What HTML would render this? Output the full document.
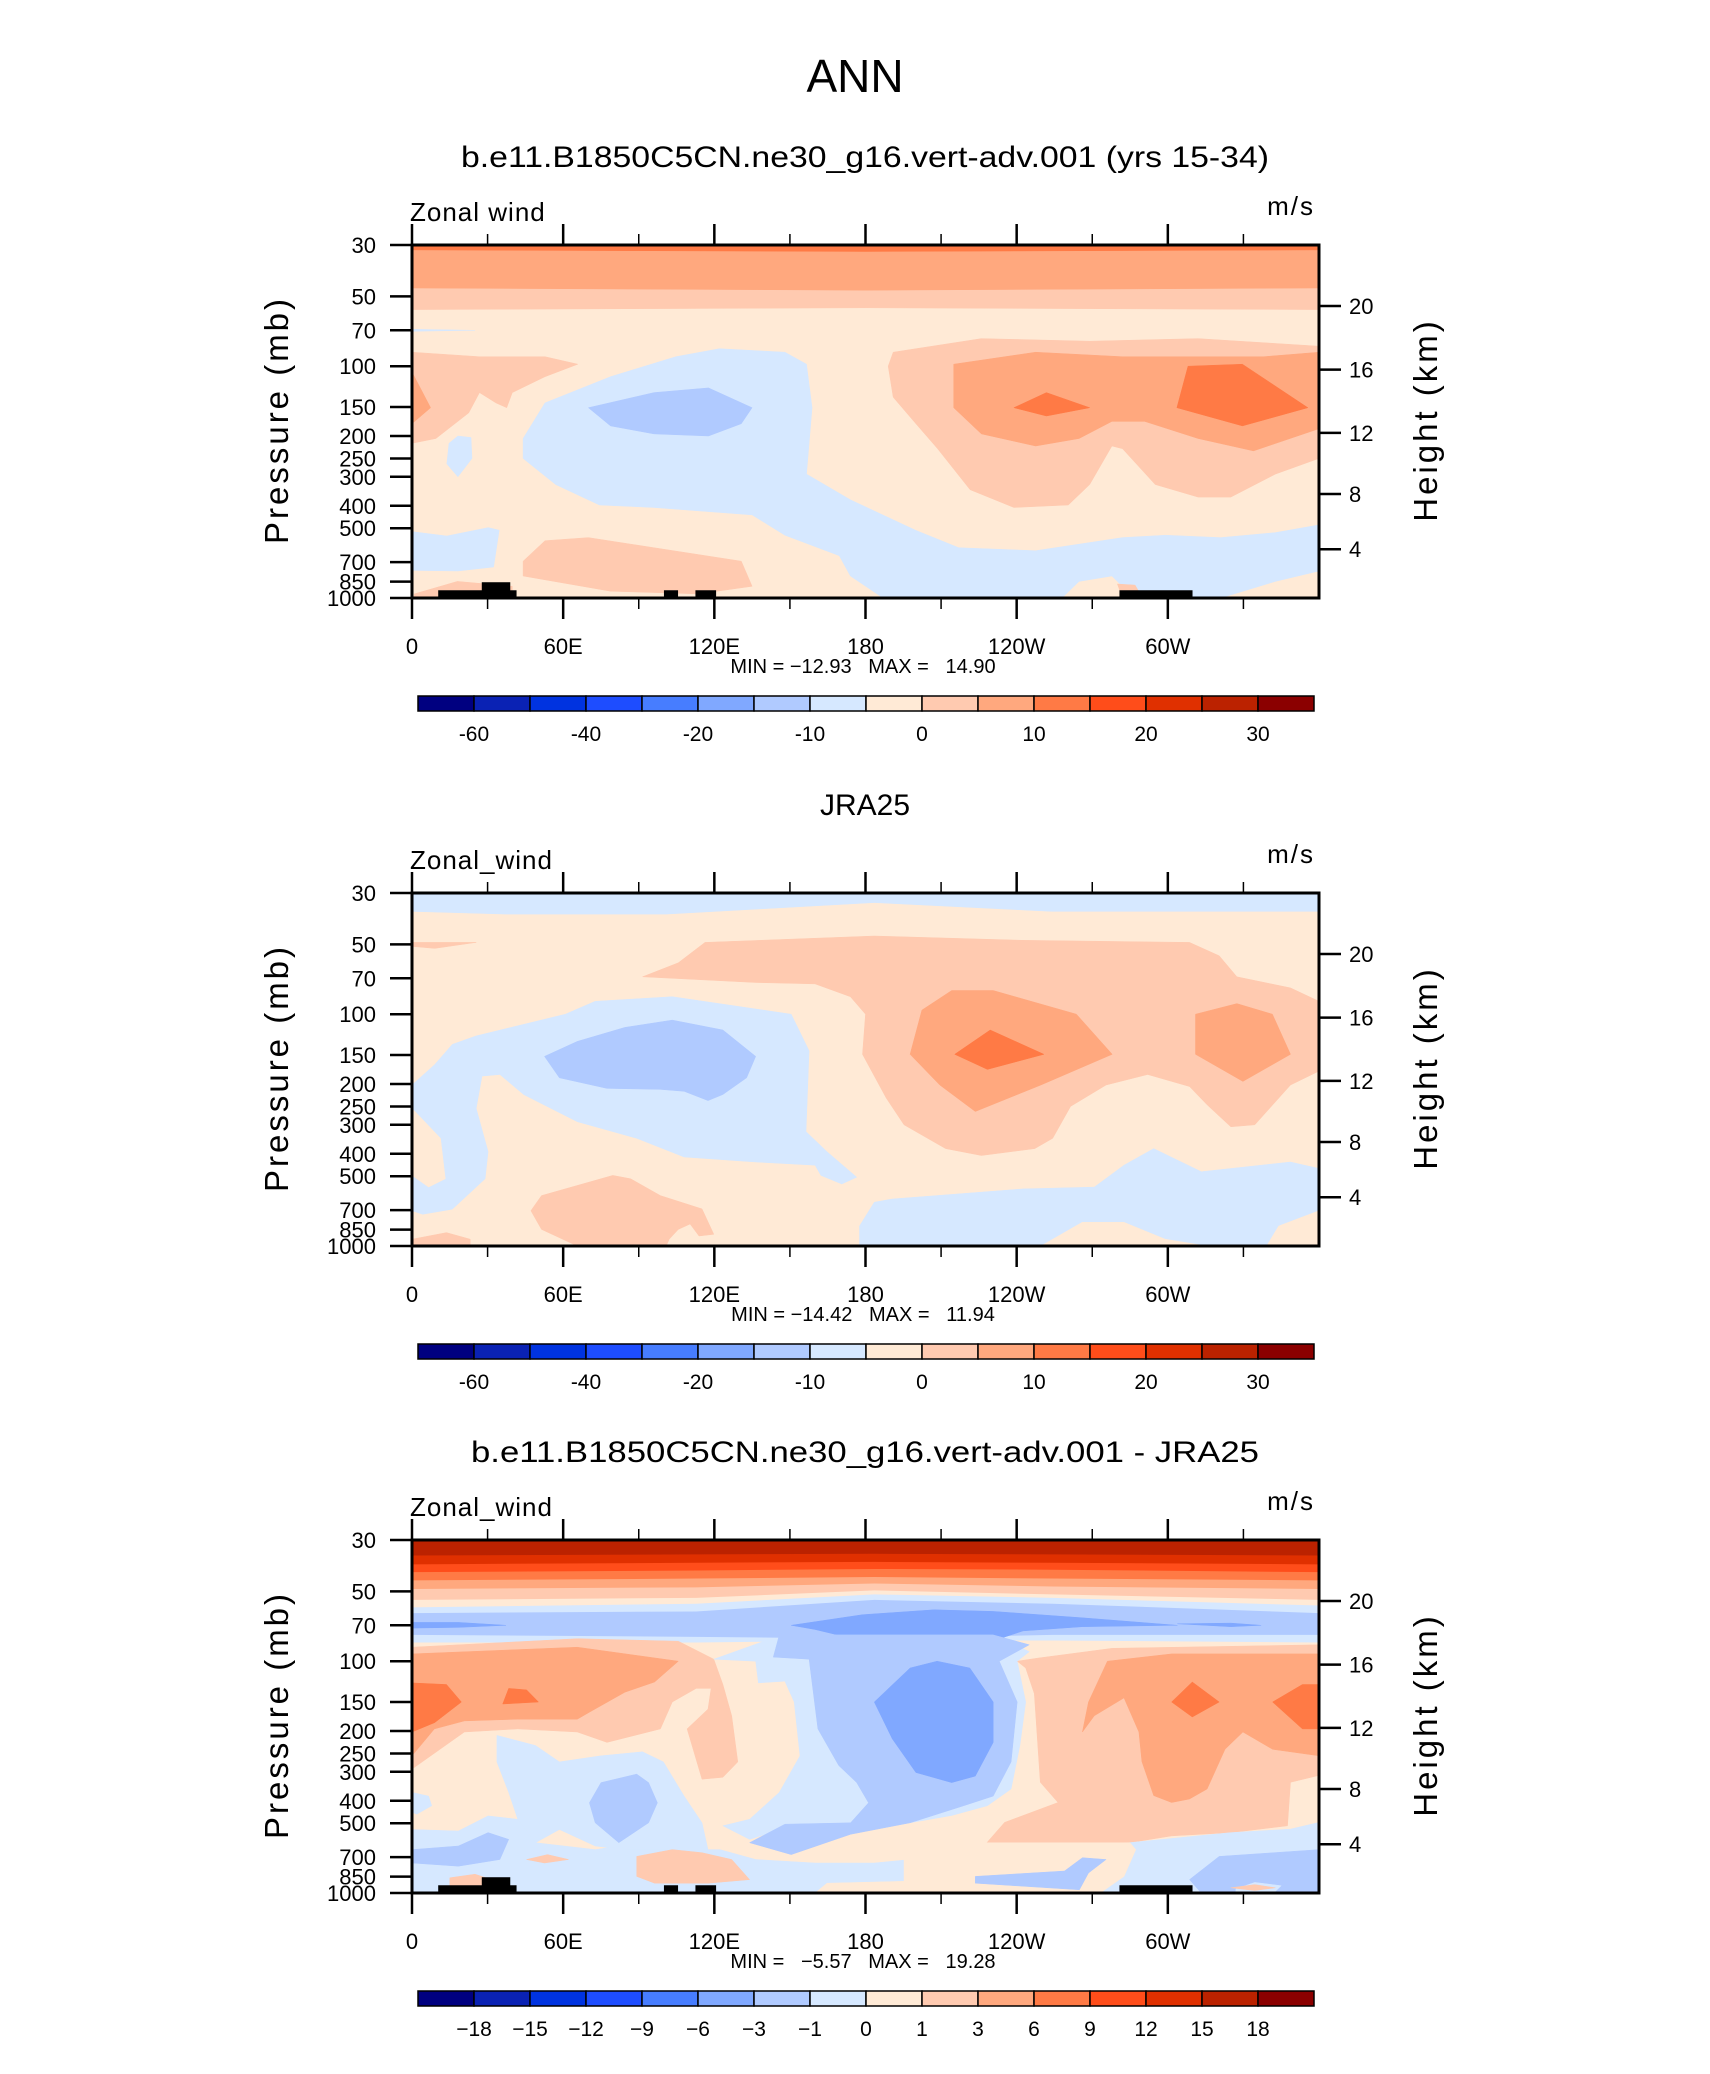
<!DOCTYPE html>
<html><head><meta charset="utf-8">
<style>
html,body{margin:0;padding:0;background:#fff;}
svg{display:block;font-family:"Liberation Sans",sans-serif;}
.pre{white-space:pre;}
</style></head>
<body>
<svg id="fig" width="1710" height="2074" viewBox="0 0 1710 2074" xmlns="http://www.w3.org/2000/svg">
<rect x="0" y="0" width="1710" height="2074" fill="#fff"/>
<text x="855" y="92" text-anchor="middle" font-size="46" fill="#000">ANN</text>
</svg>
<script>
// ---------- data ----------
const colors = ["#000080","#0a22b4","#0033e0","#1e4dff","#477dff","#80a8ff","#b0caff","#d6e8ff","#ffead6","#ffcab0","#ffa87e","#ff7a45","#ff4d1a","#e03000","#bb2200","#8b0000"];
const cbLabelsAbs = ["","-60","","-40","","-20","","-10","","0","","10","","20","","30",""];
const cbLabelsDiff = ["","\u221218","\u221215","\u221212","\u22129","\u22126","\u22123","\u22121","0","1","3","6","9","12","15","18",""];
const lonTicks = [0,60,120,180,240,300];
const lonTickLabels = ["0","60E","120E","180","120W","60W"];
const lonMinorTicks = [30,90,150,210,270,330];
const presTicks = [30,50,70,100,150,200,250,300,400,500,700,850,1000];
const heightTicks = [4,8,12,16,20];
const heightTickPres = [616,356,194,103.5,55];
const topoBoxes = [[10.4,41.5,926],[27.7,39,855],[100,105.6,926],[112.5,120.7,926],[280.8,309.8,926]];
const bandLons = [0,112.8,183.5,254.3,360];

const p1Layers = [
 [9,[[0,30],[360,30],[360,57],[180,56],[0,57]]],
 [10,[[0,30],[360,30],[360,46],[180,47],[0,46]]],
 [11,[[0,30],[360,30],[360,31.5],[180,32],[0,31.5]]],
 [7,[[0,69.3],[25,70],[0,70.7]]],
 [9,[[0,87],[26.8,91],[52.8,91],[65.8,98],[52.8,111],[39.8,130],[37.6,151],[33.3,144],[26.8,130],[22.5,159],[9.5,205],[0,215]]],
 [10,[[0,106],[7.4,151],[0,177]]],
 [7,[[18.2,200],[23.4,203],[23.8,250],[18.2,300],[13.8,264],[14.7,215]]],
 [7,[[44.1,205],[52.8,144],[78.8,111],[104.7,91],[122,84],[148,87],[156.6,98],[158.8,151],[156.6,292],[174,377],[200,511],[217,607],[247.5,625],[282,549],[299,536],[321,549],[342.7,522],[360,484],[360,765],[342.7,848],[321,1000],[286,1000],[282,890],[277.8,804],[264.8,848],[258,1000],[187,1000],[174,804],[169.6,657],[148,536],[135,438],[96,407],[74.4,397],[57,324],[44.1,250]]],
 [7,[[0,517],[13.8,540],[30.3,497],[34.6,510],[32.4,735],[18.2,765],[0,760]]],
 [6,[[70,151],[96,130],[117.7,124],[135,151],[130.7,177],[117.7,200],[96,196],[78.8,181]]],
 [9,[[191,87],[226,76],[269,78],[312,76],[360,82],[360,250],[342.7,292],[325,367],[312,367],[295,324],[282,227],[277.8,221],[269,324],[260.5,397],[238.9,407],[221.5,341],[208.6,227],[200,177],[191,136],[189,100]]],
 [10,[[215,98],[247.5,87],[282,91],[308,91],[338,91],[360,87],[360,186],[334,232],[312,205],[290.8,173],[277.8,173],[264.8,205],[247.5,221],[226,196],[215,151]]],
 [11,[[238.9,151],[251.8,130],[269,151],[251.8,164]]],
 [11,[[308,100],[329.6,98],[355.6,151],[329.6,181],[303.6,151]]],
 [9,[[44.1,694],[52.8,566],[70,549],[96,607],[130.7,694],[135,890],[113.5,960],[78.8,935],[44.1,804]]],
 [9,[[0.9,960],[18,848],[39.8,890],[39.8,1000],[0.9,1000]]],
 [9,[[282,1000],[280,870],[287,880],[290,1000]]]
];

const p2Layers = [
 [7,[[0,30],[360,30],[360,36],[254,36],[183.5,33],[101,37],[37,37],[0,36]]],
 [9,[[0,49],[13.7,49],[25.5,49],[9,52],[0,51]]],
 [9,[[91.5,69],[105.7,60],[116.3,49],[183.5,46],[242.5,48],[308.6,49],[320.4,56],[327.4,69],[348.7,77],[360,88],[360,176],[348.7,202],[334.5,300],[325,306],[315.6,246],[308.6,205],[292,182],[275.5,202],[261.4,250],[254.3,343],[247.2,380],[226,407],[211.8,380],[195.3,300],[188.2,230],[178.8,149],[180,100],[174,84],[160,74],[136.4,73]]],
 [10,[[197.7,149],[202.4,96],[214.2,79],[230.7,79],[263.7,100],[277.9,149],[249.6,202],[223.6,263],[209.5,202]]],
 [10,[[311,100],[327.4,90],[341.5,100],[348.7,149],[329.8,195],[311,149]]],
 [11,[[215.4,149],[229.5,117],[250.8,149],[228.4,173]]],
 [7,[[0,202],[9,165],[16,135],[25.5,124],[60.9,100],[72.7,88],[103.3,84],[150.5,100],[157.6,144],[156.4,321],[164.7,392],[176.5,505],[170.6,540],[162.3,496],[160,448],[136.4,434],[108,413],[89.2,343],[65.6,291],[44.3,222],[34.9,182],[27.8,185],[25.5,255],[30.2,392],[29,513],[16,694],[4.2,730],[0,704]]],
 [8,[[0,255],[11.3,343],[13.2,513],[6.6,557],[0,496]]],
 [6,[[52.6,152],[65.6,131],[84.5,114],[103.3,106],[123.4,117],[136.4,152],[132.8,188],[123.4,222],[117.5,236],[108,215],[98.6,211],[77.4,209],[58.5,188]]],
 [7,[[177.6,1000],[177.6,820],[183.5,647],[190.6,627],[242.5,567],[270.8,557],[282.6,448],[294.4,380],[313.3,478],[348.7,434],[360,463],[360,1000]]],
 [8,[[249.6,1000],[266,790],[282.6,790],[299,935],[315.6,1000]]],
 [8,[[339.2,1000],[344,820],[360,704],[360,1000]]],
 [9,[[47.2,704],[51.4,606],[79.7,496],[86.8,513],[98.6,606],[115.1,692],[119.8,890],[113.9,905],[110.4,804],[105.7,848],[102.1,935],[100.9,1000],[65.6,1000],[51.4,848]]],
 [9,[[0,935],[13.7,875],[23.1,935],[23.1,1000],[0,1000]]]
];

const p3Bands = [
 [7,[83,83,81.4,81.4,83]],
 [6,[77,78.5,80,77,77]],
 [7,[62,61,54.4,56.5,62]],
 [8,[58.6,56.5,51.5,53.3,57.5]],
 [9,[54.4,53.3,49.5,51.5,54.4]],
 [10,[48.8,48,46.2,47.6,48.8]],
 [11,[44.8,44,43.3,44,44.8]],
 [12,[41.3,40.6,40,40.3,41.3]],
 [13,[38.2,37.6,37.3,37.6,38.2]],
 [14,[35,34.6,34.4,34.6,35]]
];
const p3Layers = [
 [5,[[150.5,70],[178.8,63],[207.1,60],[230.7,61],[266.1,65],[303.8,70],[266.1,71],[242.5,74],[226,85],[214.2,100],[202.4,95],[183.5,84],[160,73]]],
 [5,[[0,68],[18.4,68],[37.3,70],[18.4,71.5],[0,72]]],
 [5,[[303.8,69],[325,68.5],[337,70],[325,71]]],
 [9,[[0,87],[65.6,80],[105.7,82],[119.8,98],[123.4,126],[126.9,172],[129.3,272],[123.4,317],[115.1,323],[109.2,196],[117.5,161],[118.7,131],[112.8,131],[103.3,150],[98.6,196],[77.4,224],[65.6,202],[42,196],[20.8,202],[0,292]]],
 [10,[[0,93],[65.6,87],[105.7,100],[96.3,123],[84.5,136],[70.4,166],[65.6,178],[42,178],[20.8,181],[8.9,196],[0,256]]],
 [11,[[0,124],[13.7,126],[19.6,150],[9,184],[0,202]]],
 [11,[[38.4,131],[45.5,133],[50.2,150],[36,153]]],
 [9,[[240.2,100],[248.4,97],[277.9,88],[360,85],[360,311],[348.7,333],[347.5,513],[325,549],[301.5,567],[285,606],[258.8,647],[230.5,647],[228.2,606],[235.2,496],[256.4,407],[249.4,333],[247,138],[243.6,107]]],
 [10,[[276,100],[301.5,93],[360,93],[360,256],[341.6,240],[329.8,202],[322.7,240],[315.6,356],[308.6,393],[301.5,407],[294.4,380],[289.7,271],[288.5,202],[282.6,144],[270.8,172],[266.1,202],[268.5,150]]],
 [11,[[301.5,150],[309.7,123],[320.4,150],[309.7,174]]],
 [11,[[341.6,150],[353.4,126],[360,126],[360,196],[353.4,196]]],
 [7,[[119.8,98],[136.4,100],[137.5,124],[148,122],[151.7,150],[154,256],[145.8,368],[134,481],[123.4,513],[134,587],[150.5,513],[164.7,549],[183.5,530],[214.2,463],[228.4,420],[237.8,356],[241.3,231],[243.6,150],[240.2,100],[245,91],[235.4,81],[141.1,81]]],
 [7,[[0,532],[18.4,540],[30.2,465],[42,481],[49,607],[72.7,650],[91.5,607],[100.9,650],[122.2,650],[136.4,717],[160,742],[183.5,742],[197.7,717],[228.2,627],[259,647],[285,606],[325,549],[348.7,530],[360,496],[360,1000],[0,1000]]],
 [7,[[33.7,209],[49,231],[58.5,272],[75,256],[91.5,246],[99.8,272],[108,382],[115.1,498],[117.5,650],[100.9,650],[84.5,650],[72.7,627],[58.5,532],[49,607],[42,481],[38.4,368],[33.7,272]]],
 [7,[[0,368],[6.6,382],[7.8,420],[1.9,457],[0,448]]],
 [6,[[157.6,98],[161.1,196],[169.4,282],[176.5,334],[181.2,408],[174.1,498],[148,505],[134,607],[150.5,683],[174.1,558],[197.7,498],[219,420],[230.7,382],[237.8,272],[240.2,150],[233.1,100],[245,85],[230.7,77],[145.8,77],[143.4,96]]],
 [6,[[70.4,408],[75,334],[89.2,307],[93.9,334],[97.4,408],[93.9,498],[82.1,607],[72.7,498]]],
 [6,[[0,650],[18.4,627],[30.2,549],[38.4,587],[34.9,717],[18.4,766],[0,742]]],
 [8,[[195.3,717],[228.2,607],[285,607],[287.3,650],[282.6,848],[273.2,1000],[160,1000],[164.7,907],[195.3,890]]],
 [6,[[223.6,848],[259,804],[266.1,704],[275.5,717],[268.5,820],[264.9,969],[223.6,907]]],
 [6,[[308.6,875],[320.4,695],[360,650],[360,1000],[313.3,1000]]],
 [7,[[327,960],[334.5,900],[345,930],[342,1000],[327,1000]]],
 [5,[[183.5,150],[197.7,107],[208.4,100],[221.4,107],[230.7,150],[230.7,224],[223.6,313],[214.2,334],[200,302],[190.6,216]]],
 [9,[[89.2,695],[103.3,650],[115.1,670],[126.9,717],[134,875],[117.5,907],[96.3,907],[89.2,848]]],
 [9,[[45.5,717],[53.8,683],[62.1,717],[52.6,742]]],
 [9,[[325,950],[334.5,920],[342.7,950],[334.5,975]]],
 [9,[[15,860],[25,830],[35,900],[30,1000],[15,1000]]]
];

const panels = [
 {top:245, title:"b.e11.B1850C5CN.ne30_g16.vert-adv.001 (yrs 15-34)", titleLen:808, varName:"Zonal wind", layers:p1Layers, bands:null, topo:true, cb:cbLabelsAbs, minmax:"MIN = \u221212.93   MAX =   14.90"},
 {top:893, title:"JRA25", titleLen:0, varName:"Zonal_wind", layers:p2Layers, bands:null, topo:false, cb:cbLabelsAbs, minmax:"MIN = \u221214.42   MAX =   11.94"},
 {top:1540, title:"b.e11.B1850C5CN.ne30_g16.vert-adv.001 - JRA25", titleLen:788, varName:"Zonal_wind", layers:p3Layers, bands:p3Bands, topo:true, cb:cbLabelsDiff, minmax:"MIN =   \u22125.57   MAX =   19.28"}
];

const PL = 412, PR = 1319, PH = 353;
const NS = "http://www.w3.org/2000/svg";
const svg = document.getElementById("fig");
function xS(lon){ return PL + lon/360*(PR-PL); }
function yS(p, top){ return top + PH*(Math.log10(p)-Math.log10(30))/(Math.log10(1000)-Math.log10(30)); }
function mk(tag, attrs, parent){
  const e = document.createElementNS(NS, tag);
  for (const k in attrs) e.setAttribute(k, attrs[k]);
  (parent||svg).appendChild(e);
  return e;
}
function txt(str, attrs, parent){ const e = mk("text", attrs, parent); e.textContent = str; return e; }

panels.forEach((P, pi) => {
  const T = P.top;
  const g = mk("g", {});
  
  
  const clipId = "clip" + pi;
  const cp = mk("clipPath", {id: clipId}, g);
  mk("rect", {x: PL, y: T, width: PR-PL, height: PH}, cp);
  const plot = mk("g", {"clip-path": "url(#" + clipId + ")"}, g);
  
  
  const bg = mk("rect", {x: PL, y: T, width: PR-PL, height: PH, fill: colors[8]}, plot);
  
  
  if (P.bands) {
    P.bands.forEach((b) => {
      let d = "M" + xS(0) + "," + yS(30,T) + " L" + xS(360) + "," + yS(30,T);
      for (let i = bandLons.length-1; i >= 0; i--) d += " L" + xS(bandLons[i]) + "," + yS(b[1][i],T);
      const pth = mk("path", {d: d + " Z", fill: colors[b[0]]}, plot);
      
      
    });
  }
  P.layers.forEach((L) => {
    const pts = L[1].map(q => xS(q[0]).toFixed(1) + "," + yS(q[1],T).toFixed(1)).join(" ");
    const poly = mk("polygon", {points: pts, fill: colors[L[0]], "stroke": colors[L[0]], "stroke-width": 0.5, "stroke-linejoin": "round"}, plot);
    
    
  });
  if (P.topo) {
    topoBoxes.forEach((b) => {
      const r = mk("rect", {x: xS(b[0]), y: yS(b[2],T), width: xS(b[1])-xS(b[0]), height: yS(1000,T)-yS(b[2],T), fill: "#000"}, plot);
      
      
    });
  }
  const fr = mk("rect", {x: PL, y: T, width: PR-PL, height: PH, fill: "none", stroke: "#000", "stroke-width": 3}, g);
  
  
  lonTicks.forEach((lon, i) => {
    mk("line", {x1: xS(lon), x2: xS(lon), y1: T, y2: T-21, stroke: "#000", "stroke-width": 2.5}, g);
    mk("line", {x1: xS(lon), x2: xS(lon), y1: T+PH, y2: T+PH+21, stroke: "#000", "stroke-width": 2.5}, g);
    const t = txt(lonTickLabels[i], {x: xS(lon), y: T+PH+56, "text-anchor": "middle", "font-size": 22}, g);
    
    
  });
  lonMinorTicks.forEach((lon) => {
    mk("line", {x1: xS(lon), x2: xS(lon), y1: T, y2: T-11, stroke: "#000", "stroke-width": 1.5}, g);
    mk("line", {x1: xS(lon), x2: xS(lon), y1: T+PH, y2: T+PH+11, stroke: "#000", "stroke-width": 1.5}, g);
  });
  presTicks.forEach((p) => {
    const y = yS(p,T);
    mk("line", {x1: PL-22, x2: PL, y1: y, y2: y, stroke: "#000", "stroke-width": 2.5}, g);
    const t = txt(String(p), {x: PL-36, y: y+8, "text-anchor": "end", "font-size": 22}, g);
    
    
  });
  heightTicks.forEach((h, i) => {
    const y = yS(heightTickPres[i],T);
    mk("line", {x1: PR, x2: PR+22, y1: y, y2: y, stroke: "#000", "stroke-width": 2.5}, g);
    const t = txt(String(h), {x: PR+30, y: y+8, "text-anchor": "start", "font-size": 22}, g);
    
    
  });
  const yl = txt("Pressure  (mb)", {x: 0, y: 0, "text-anchor": "middle", "font-size": 33, "letter-spacing": 3, transform: "translate(288," + (T+175) + ") rotate(-90)"}, g);
  
  
  const yr = txt("Height  (km)", {x: 0, y: 0, "text-anchor": "middle", "font-size": 33, "letter-spacing": 3, transform: "translate(1437," + (T+175) + ") rotate(-90)"}, g);
  
  
  const ttAttrs = {x: 865, y: T-78, "text-anchor": "middle", "font-size": 30};
  if (P.titleLen) { ttAttrs.textLength = P.titleLen; ttAttrs.lengthAdjust = "spacingAndGlyphs"; }
  const tt = txt(P.title, ttAttrs, g);
  
  
  const vn = txt(P.varName, {x: PL-2, y: T-24, "font-size": 26, "letter-spacing": 1}, g);
  
  
  const un = txt("m/s", {x: PR-4, y: T-30, "text-anchor": "end", "font-size": 26, "letter-spacing": 2}, g);
  
  
  const mm = txt(P.minmax, {x: 863, y: T+PH+75, "text-anchor": "middle", "font-size": 20, "class": "pre"}, g);
  
  
  const cbg = mk("g", {}, g);
  
  
  const CX = 418, CW = 56, CY = T+451, CH = 15;
  colors.forEach((c, i) => {
    const r = mk("rect", {x: CX+i*CW, y: CY, width: CW, height: CH, fill: c, stroke: "#000", "stroke-width": 1.5}, cbg);
    
    
  });
  P.cb.forEach((lab, i) => {
    if (!lab) return;
    const t = txt(lab, {x: CX+i*CW, y: CY+CH+30, "text-anchor": "middle", "font-size": 21}, cbg);
    
    
  });
});
</script>
</body></html>
